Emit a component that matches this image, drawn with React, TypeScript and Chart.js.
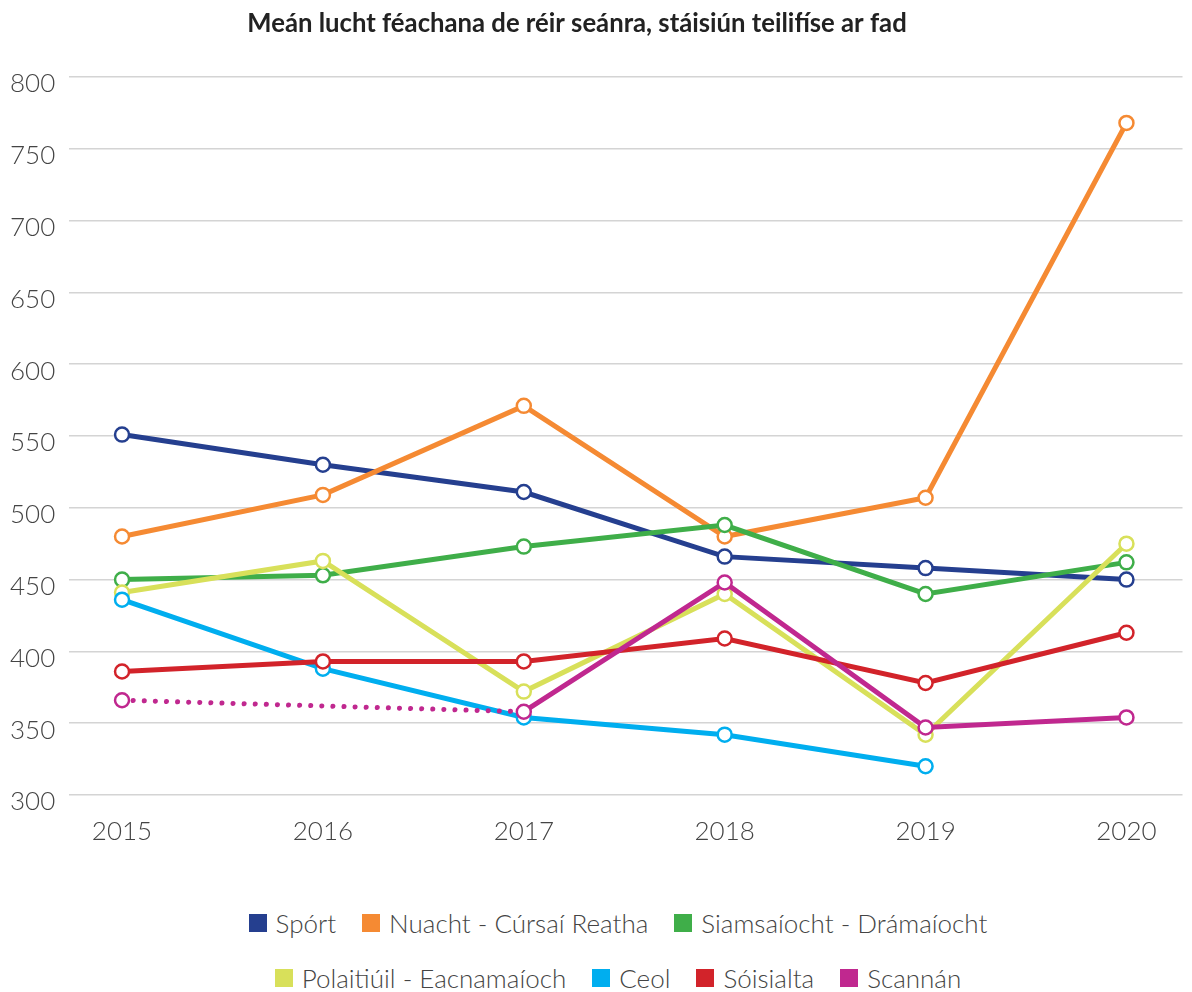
import React, { useEffect, useRef } from "react";
import { Chart, registerables } from "chart.js";

Chart.register(...registerables);

const chartTitle = "Meán lucht féachana de réir seánra, stáisiún teilifíse ar fad";
const years = [2015, 2016, 2017, 2018, 2019, 2020];
const seriesNames = [
  "Spórt",
  "Nuacht - Cúrsaí Reatha",
  "Siamsaíocht - Drámaíocht",
  "Polaitiúil - Eacnamaíoch",
  "Ceol",
  "Sóisialta",
  "Scannán",
];
const seriesColors = ["#253f8f", "#f58a33", "#3fae49", "#d8e05a", "#00aeef", "#d2232a", "#c0288f"];
const sport = [551, 530, 511, 466, 458, 450];
const nuacht = [480, 509, 571, 480, 507, 768];
const siamsaiocht = [450, 453, 473, 488, 440, 462];
const polaitiuil = [441, 463, 372, 440, 342, 475];
const ceol = [436, 388, 354, 342, 320, null];
const soisialta = [386, 393, 393, 409, 378, 413];
const scannan = [366, null, 358, 448, 347, 354];
const seriesValues = [sport, nuacht, siamsaiocht, polaitiuil, ceol, soisialta, scannan];
const yMin = 300;
const yMax = 800;
const yStep = 50;

const FONT = "Lato, 'Open Sans', sans-serif";

const titlePlugin = {
  id: "customTitle",
  afterDraw(chart: any) {
    const ctx = chart.ctx;
    ctx.save();
    ctx.font = `bold 25.7px ${FONT}`;
    ctx.fillStyle = "#222222";
    ctx.textAlign = "center";
    ctx.textBaseline = "middle";
    ctx.fillText(chartTitle, 577, 24);
    ctx.restore();
  },
};

export default function App() {
  const canvasRef = useRef<HTMLCanvasElement | null>(null);

  useEffect(() => {
    document.body.style.margin = "0";
    const canvas = canvasRef.current;
    if (!canvas) return;
    const datasets = seriesValues.map((vals, i) => {
      const isGap = (c: any) => vals[c.p1DataIndex - 1] === null || vals[c.p0DataIndex] === null;
      return {
        label: seriesNames[i],
        data: years.map((yr, j) => ({ x: yr, y: vals[j] })),
        borderColor: seriesColors[i],
        backgroundColor: seriesColors[i],
        borderWidth: 5,
        pointRadius: 7,
        pointHoverRadius: 7,
        pointBorderWidth: 2.5,
        pointBackgroundColor: "#ffffff",
        pointBorderColor: seriesColors[i],
        tension: 0,
        order: seriesValues.length - i,
        spanGaps: i === 6,
        segment:
          i === 6
            ? {
                borderDash: (c: any) => (isGap(c) ? [0.1, 11] : undefined),
                borderCapStyle: (c: any) => (isGap(c) ? "round" : undefined),
                borderWidth: (c: any) => (isGap(c) ? 5 : undefined),
              }
            : undefined,
      };
    });

    const chart = new Chart(canvas, {
      type: "line",
      data: { datasets },
      options: {
        animation: false,
        responsive: false,
        maintainAspectRatio: false,
        layout: { padding: { top: 77, left: 10, right: 0, bottom: 0 } },
        plugins: {
          legend: { display: false },
          title: { display: false },
          tooltip: { enabled: false },
        },
        scales: {
          x: {
            type: "linear",
            min: 2014.736,
            max: 2020.279,
            grid: { display: false, drawTicks: false },
            border: { display: false },
            afterFit: (s: any) => {
              s.height = 65;
              s.paddingLeft = 0;
              s.paddingRight = 0;
            },
            afterBuildTicks: (s: any) => {
              s.ticks = years.map((v) => ({ value: v }));
            },
            ticks: {
              padding: 21,
              color: "#444444",
              font: { family: FONT, size: 26, weight: "300" },
              callback: (v: any) => String(v),
              maxRotation: 0,
              autoSkip: false,
            },
          },
          y: {
            min: yMin,
            max: yMax,
            grid: { color: "#d4d4d4", lineWidth: 1.5, drawTicks: false },
            border: { display: false },
            afterFit: (s: any) => {
              s.width = 59;
            },
            ticks: {
              stepSize: yStep,
              crossAlign: "far",
              labelOffset: 7,
              padding: 0,
              color: "#444444",
              font: { family: FONT, size: 26, weight: "300" },
            },
          },
        },
      },
      plugins: [titlePlugin],
    });
    return () => chart.destroy();
  }, []);

  const item = (i: number) => (
    <span key={i} style={{ display: "inline-flex", alignItems: "center", margin: "0 13px" }}>
      <span
        style={{
          display: "inline-block",
          width: 18,
          height: 18,
          background: seriesColors[i],
          marginRight: 9,
        }}
      />
      <span>{seriesNames[i]}</span>
    </span>
  );

  const rowStyle: React.CSSProperties = {
    position: "absolute",
    left: 46,
    width: 1144,
    display: "flex",
    justifyContent: "center",
    alignItems: "center",
    height: 30,
    fontFamily: FONT,
    fontWeight: 300,
    fontSize: 26,
    color: "#444444",
    whiteSpace: "nowrap",
  };

  return (
    <div style={{ position: "relative", width: 1192, height: 992, background: "#ffffff" }}>
      <canvas ref={canvasRef} width={1192} height={860} style={{ display: "block" }} />
      <div style={{ ...rowStyle, top: 923 - 15 }}>{[0, 1, 2].map(item)}</div>
      <div style={{ ...rowStyle, top: 978 - 15 }}>{[3, 4, 5, 6].map(item)}</div>
    </div>
  );
}
